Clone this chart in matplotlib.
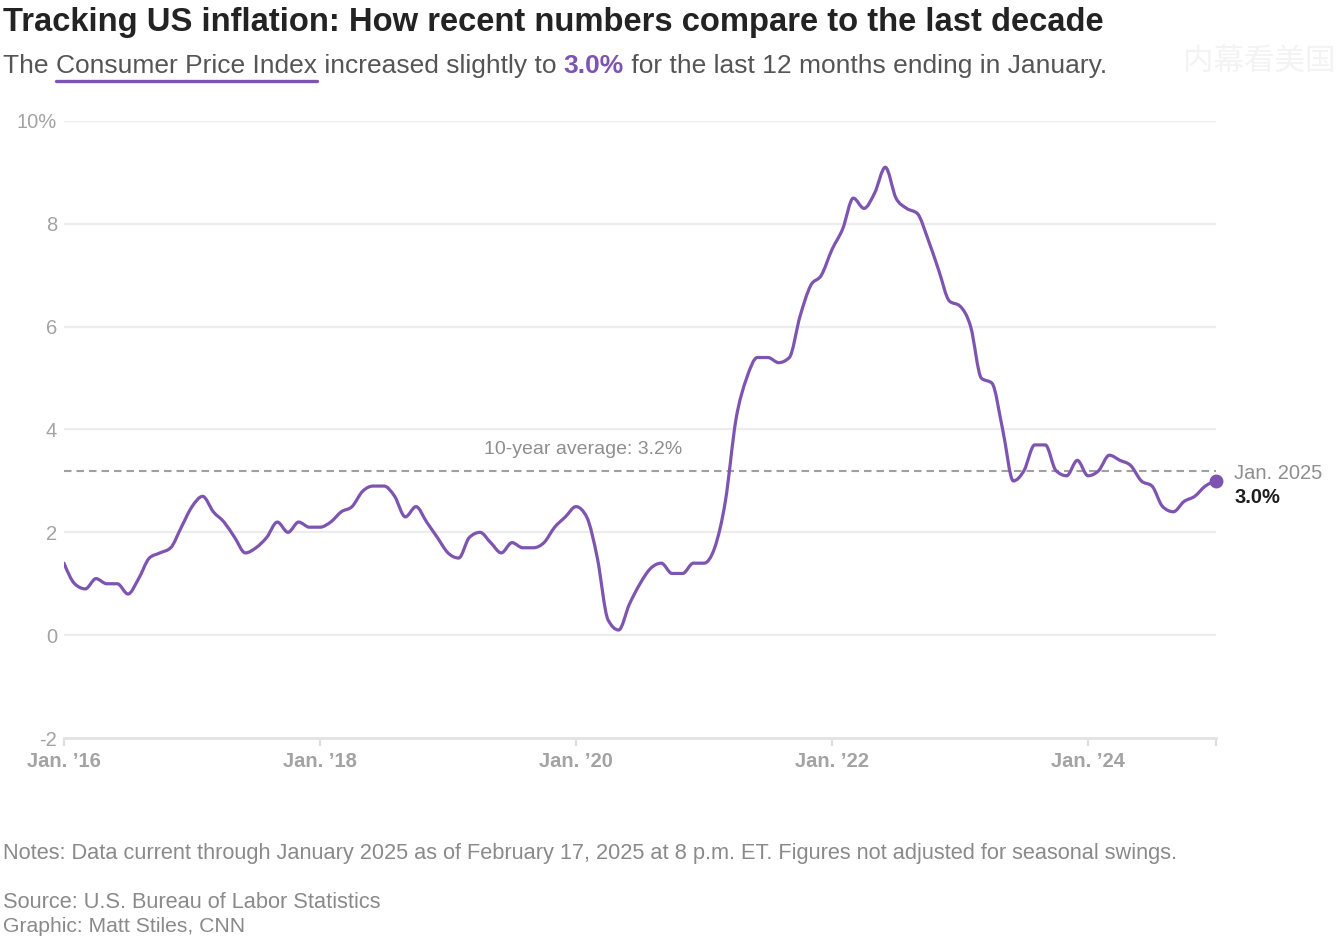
import numpy as np
import matplotlib
matplotlib.use("Agg")
import matplotlib.pyplot as plt
from matplotlib.path import Path
from matplotlib.patches import PathPatch
from matplotlib.lines import Line2D

# ---------------- data ----------------
# CPI, 12-month % change, monthly, Jan 2016 .. Jan 2025
cpi_2016 = [1.4, 1.0, 0.9, 1.1, 1.0, 1.0, 0.8, 1.1, 1.5, 1.6, 1.7, 2.1]
cpi_2017 = [2.5, 2.7, 2.4, 2.2, 1.9, 1.6, 1.7, 1.9, 2.2, 2.0, 2.2, 2.1]
cpi_2018 = [2.1, 2.2, 2.4, 2.5, 2.8, 2.9, 2.9, 2.7, 2.3, 2.5, 2.2, 1.9]
cpi_2019 = [1.6, 1.5, 1.9, 2.0, 1.8, 1.6, 1.8, 1.7, 1.7, 1.8, 2.1, 2.3]
cpi_2020 = [2.5, 2.3, 1.5, 0.3, 0.1, 0.6, 1.0, 1.3, 1.4, 1.2, 1.2, 1.4]
cpi_2021 = [1.4, 1.7, 2.6, 4.2, 5.0, 5.4, 5.4, 5.3, 5.4, 6.2, 6.8, 7.0]
cpi_2022 = [7.5, 7.9, 8.5, 8.3, 8.6, 9.1, 8.5, 8.3, 8.2, 7.7, 7.1, 6.5]
cpi_2023 = [6.4, 6.0, 5.0, 4.9, 4.0, 3.0, 3.2, 3.7, 3.7, 3.2, 3.1, 3.4]
cpi_2024 = [3.1, 3.2, 3.5, 3.4, 3.3, 3.0, 2.9, 2.5, 2.4, 2.6, 2.7, 2.9]
cpi_2025 = [3.0]
cpi = (cpi_2016 + cpi_2017 + cpi_2018 + cpi_2019 + cpi_2020 +
       cpi_2021 + cpi_2022 + cpi_2023 + cpi_2024 + cpi_2025)
months = list(range(len(cpi)))          # months since Jan 2016

ten_year_avg = 3.2
x_tick_months = [0, 24, 48, 72, 96, 108]
x_tick_labels = ["Jan. \u201916", "Jan. \u201918", "Jan. \u201920",
                 "Jan. \u201922", "Jan. \u201924", ""]
y_ticks = [-2, 0, 2, 4, 6, 8, 10]
y_tick_labels = ["-2", "0", "2", "4", "6", "8", "10%"]

title = "Tracking US inflation: How recent numbers compare to the last decade"
sub_parts = ["The ", "Consumer Price Index", " increased slightly to ",
             "3.0%", " for the last 12 months ending in January."]
avg_label = "10-year average: 3.2%"
end_label_date = "Jan. 2025"
end_label_value = "3.0%"
notes = ("Notes: Data current through January 2025 as of February 17, 2025 "
         "at 8 p.m. ET. Figures not adjusted for seasonal swings.")
source = "Source: U.S. Bureau of Labor Statistics"
graphic = "Graphic: Matt Stiles, CNN"
watermark = "内幕看美国"

# ---------------- style ----------------
PURPLE = "#7d55b1"
FONT = "Liberation Sans"
W, H = 1336, 939
plt.rcParams["font.family"] = [FONT, "DejaVu Sans"]

fig = plt.figure(figsize=(W / 100, H / 100), dpi=100)
fig.patch.set_facecolor("white")


def fx(px):
    return px / W


def fy(py):
    return 1 - py / H


ax = fig.add_axes([fx(64), fy(738), fx(1216) - fx(64), fy(121) - fy(738)])
ax.set_xlim(0, 108)
ax.set_ylim(-2, 10)
ax.set_facecolor("white")
for s in ["top", "right", "left"]:
    ax.spines[s].set_visible(False)
ax.spines["bottom"].set_color("#e3e3e3")
ax.spines["bottom"].set_linewidth(2.0)

ax.set_yticks(y_ticks)
ax.set_yticklabels(y_tick_labels)
ax.tick_params(axis="y", length=0, pad=5, labelsize=14.5, labelcolor="#a3a3a3")
for yv in y_ticks[1:]:
    ax.axhline(yv, color="#ececec", lw=1.6, zorder=1)

ax.set_xticks(x_tick_months)
ax.set_xticklabels(x_tick_labels)
ax.tick_params(axis="x", length=6, width=1.5, color="#dedede", pad=4,
               labelsize=14.5, labelcolor="#a3a3a3")
for lab in ax.get_xticklabels():
    lab.set_fontweight("bold")


# ----- smooth monotone curve through the monthly points -----
def monotone_path(xs, ys):
    x = np.asarray(xs, float)
    y = np.asarray(ys, float)
    n = len(x)
    h = np.diff(x)
    s = np.diff(y) / h
    m = np.zeros(n)
    for i in range(1, n - 1):
        h0, h1 = h[i - 1], h[i]
        s0, s1 = s[i - 1], s[i]
        p = (s0 * h1 + s1 * h0) / (h0 + h1)
        m[i] = (np.sign(s0) + np.sign(s1)) * min(abs(s0), abs(s1), 0.5 * abs(p))
    m[0] = (3 * s[0] - m[1]) / 2
    m[-1] = (3 * s[-1] - m[-2]) / 2
    verts = [(x[0], y[0])]
    codes = [Path.MOVETO]
    for i in range(n - 1):
        dx = h[i] / 3
        verts += [(x[i] + dx, y[i] + m[i] * dx),
                  (x[i + 1] - dx, y[i + 1] - m[i + 1] * dx),
                  (x[i + 1], y[i + 1])]
        codes += [Path.CURVE4] * 3
    return Path(verts, codes)


patch = PathPatch(monotone_path(months, cpi), facecolor="none",
                  edgecolor=PURPLE, lw=2.3, capstyle="round",
                  joinstyle="round", zorder=4)
ax.add_patch(patch)

ax.axhline(ten_year_avg, color="#a0a0a0", lw=1.5, ls=(0, (3.6, 2.4)), zorder=3)
ax.text(48.7, ten_year_avg + 0.25, avg_label, ha="center", va="bottom",
        fontsize=14, color="#8e8e8e", zorder=5)

ax.plot([months[-1]], [cpi[-1]], "o", ms=9, color=PURPLE, zorder=6,
        clip_on=False)
ax.annotate(end_label_date, (months[-1], cpi[-1]), xytext=(13, 5),
            textcoords="offset points", ha="left", va="center",
            fontsize=14.5, color="#8e8e8e", annotation_clip=False)
ax.annotate(end_label_value, (months[-1], cpi[-1]), xytext=(13, -12),
            textcoords="offset points", ha="left", va="center",
            fontsize=14.5, color="#1e1e1e", fontweight="bold",
            annotation_clip=False)

# ---------------- header / footer text ----------------
renderer = fig.canvas.get_renderer()


def width_of(s, **kw):
    t1 = fig.text(0, 0, "|" + s + "|", **kw)
    t2 = fig.text(0, 0, "||", **kw)
    w = (t1.get_window_extent(renderer).width -
         t2.get_window_extent(renderer).width)
    t1.remove()
    t2.remove()
    return w


def fit_size(s, target, base=20, **kw):
    return base * target / width_of(s, fontsize=base, **kw)


# title
tsize = fit_size(title, 1100, fontweight="bold")
fig.text(fx(3), fy(31), title, fontsize=tsize, fontweight="bold",
         color="#232323", ha="left", va="baseline")

# subtitle with purple bold value and underline
full_sub = "".join(sub_parts)
ssize = fit_size(full_sub, 1103)
xcur = 3.0
positions = []
for i, part in enumerate(sub_parts):
    kw = dict(fontsize=ssize)
    if i == 3:
        kw.update(fontweight="bold", color=PURPLE)
    else:
        kw.update(color="#555555")
    fig.text(fx(xcur), fy(73), part, ha="left", va="baseline", **kw)
    w = width_of(part, fontsize=ssize,
                 fontweight=kw.get("fontweight", "normal"))
    positions.append((xcur, xcur + w))
    xcur += w
ux0, ux1 = positions[1]
fig.add_artist(Line2D([fx(ux0), fx(ux1)], [fy(80.5), fy(80.5)],
                      color=PURPLE, lw=2.4, solid_capstyle="round",
                      transform=fig.transFigure))

# watermark
fig.text(fx(1183), fy(62), watermark, fontsize=22, color="#f3f3f3",
         family=["Noto Sans CJK SC", "DejaVu Sans"], ha="left", va="center")

# footer
nsize = fit_size(notes, 1177)
fig.text(fx(3), fy(859), notes, fontsize=nsize, color="#8a8a8a",
         ha="left", va="baseline")
fig.text(fx(3), fy(908), source, fontsize=nsize, color="#8a8a8a",
         ha="left", va="baseline")
fig.text(fx(3), fy(932), graphic, fontsize=nsize * 0.97, color="#8a8a8a",
         ha="left", va="baseline")

fig.savefig("out.png", dpi=100, facecolor="white")
